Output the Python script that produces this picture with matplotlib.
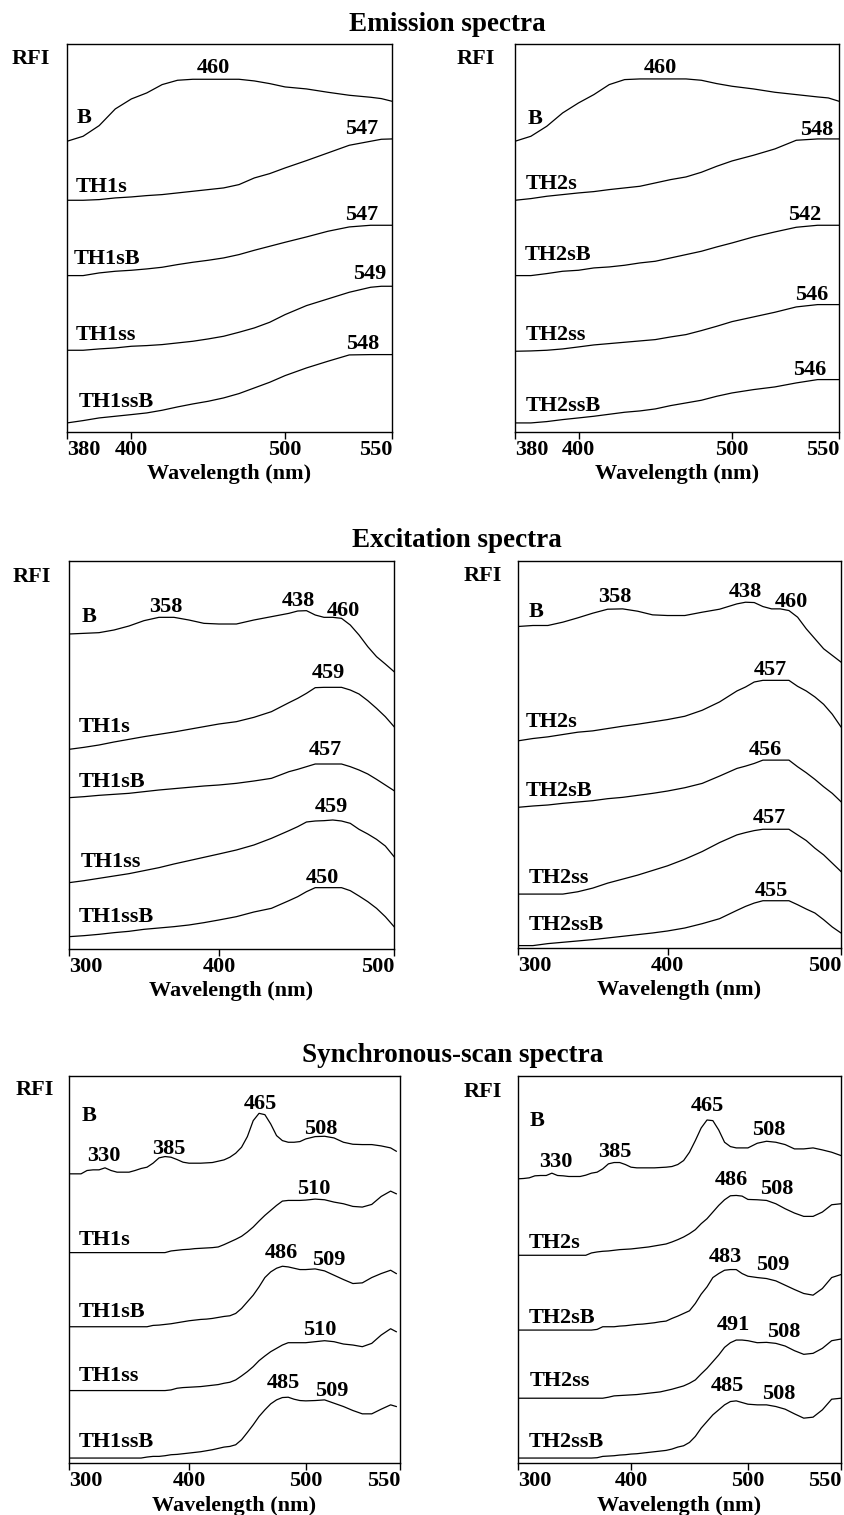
import numpy as np
import matplotlib
matplotlib.use("Agg")
import matplotlib.pyplot as plt

plt.rcParams['font.family'] = ['Liberation Serif', 'DejaVu Serif']
plt.rcParams['font.weight'] = 'bold'
plt.rcParams['font.size'] = 16

# ---------------- data (RFI in arbitrary units, curves stacked) ----------------
em_wl = [380, 385, 390, 395, 400, 410, 420, 430, 440, 450, 460, 470, 480, 490, 500,
         510, 520, 530, 540, 545, 550]
em_ticks = [380, 400, 500, 550]

em1_B = [87.2, 88.7, 91.9, 96.9, 99.9, 101.7, 104.2, 105.5, 105.8, 105.8, 105.8, 105.8, 105.3,
         104.5, 103.5, 102.9, 101.9, 101.0, 100.4, 100.0, 99.2]
em1_TH1s = [69.5, 69.5, 69.7, 70.2, 70.5, 70.9, 71.2, 71.7, 72.2, 72.7, 73.2, 74.2, 76.2, 77.5,
            79.2, 81.4, 83.7, 86.0, 87.2, 87.8, 87.9]
em1_TH1sB = [46.9, 46.9, 47.7, 48.2, 48.5, 48.9, 49.4, 50.2, 50.9, 51.5, 52.2, 53.2, 54.5, 55.7,
             56.9, 58.5, 60.2, 61.5, 62.0, 62.0, 62.0]
em1_TH1ss = [24.5, 24.5, 24.9, 25.2, 25.7, 25.9, 26.2, 26.7, 27.2, 27.9, 28.7, 29.9, 31.2, 32.9,
             35.2, 37.9, 39.9, 41.9, 43.4, 43.7, 43.7]
em1_TH1ssB = [2.7, 3.4, 4.2, 4.7, 5.2, 5.7, 6.5, 7.5, 8.4, 9.2, 10.2, 11.5, 13.2, 14.9, 16.9,
              19.2, 21.2, 23.1, 23.2, 23.2, 23.2]

em2_B = [87.2, 88.7, 91.7, 95.7, 98.7, 101.2, 104.2, 105.7, 105.9, 105.9, 105.9, 105.9, 105.5,
         104.5, 103.7, 102.9, 101.9, 101.2, 100.5, 100.2, 99.2]
em2_TH2s = [69.5, 70.0, 70.7, 71.2, 71.7, 72.1, 72.7, 73.2, 73.7, 74.7, 75.7, 76.5, 77.9, 79.7,
            81.3, 83.0, 84.9, 87.5, 87.9, 87.9, 87.9]
em2_TH2sB = [46.9, 46.9, 47.5, 48.2, 48.5, 49.2, 49.5, 50.0, 50.7, 51.2, 52.2, 53.2, 54.2, 55.5,
             56.7, 58.5, 60.0, 61.4, 62.0, 62.0, 62.0]
em2_TH2ss = [24.2, 24.3, 24.5, 24.9, 25.5, 26.1, 26.5, 26.9, 27.3, 27.7, 28.5, 29.2, 30.4, 31.7,
             33.1, 34.5, 35.9, 37.5, 38.2, 38.2, 38.2]
em2_TH2ssB = [2.7, 2.7, 3.1, 3.7, 4.2, 4.7, 5.3, 5.9, 6.3, 6.9, 7.9, 8.7, 9.5, 10.7, 11.7, 12.7,
              13.5, 14.7, 15.7, 15.7, 15.7]

ex_wl = [300, 310, 320, 330, 340, 350, 360, 370, 380, 390, 400, 410, 420, 430, 440, 445, 450,
         455, 460, 465, 470, 475, 480, 485, 490, 495, 500]
ex_ticks = [300, 400, 500]

ex1_B = [94.5, 94.7, 94.9, 95.7, 96.9, 98.5, 99.5, 99.5, 98.7, 97.7, 97.5, 97.5, 98.7, 99.7, 100.7,
         101.4, 101.5, 100.2, 99.5, 99.5, 99.2, 97.2, 94.2, 90.7, 87.7, 85.5, 83.2]
ex1_TH1s = [59.9, 60.5, 61.2, 62.1, 62.9, 63.7, 64.4, 65.1, 65.9, 66.7, 67.5, 68.2, 69.5, 71.2,
            73.9, 75.2, 76.7, 78.4, 78.5, 78.5, 78.5, 77.7, 76.5, 74.5, 72.2, 69.7, 66.7]
ex1_TH1sB = [45.4, 45.7, 46.1, 46.4, 46.7, 47.2, 47.7, 48.1, 48.5, 48.9, 49.2, 49.7, 50.4, 51.2,
             53.2, 53.9, 54.7, 55.5, 55.5, 55.5, 55.5, 54.7, 53.7, 52.5, 50.9, 49.2, 47.5]
ex1_TH1ss = [19.9, 20.5, 21.2, 21.9, 22.6, 23.5, 24.4, 25.5, 26.5, 27.5, 28.5, 29.7, 31.2, 33.2,
             35.5, 36.7, 38.1, 38.4, 38.5, 38.7, 38.4, 37.7, 35.9, 34.5, 32.9, 30.9, 27.7]
ex1_TH1ssB = [3.7, 4.0, 4.4, 4.9, 5.3, 5.9, 6.3, 6.7, 7.2, 7.9, 8.7, 9.7, 11.1, 12.2, 14.5, 15.7,
              17.2, 18.4, 18.4, 18.4, 18.4, 17.5, 15.9, 14.2, 12.2, 9.7, 6.7]

ex2_B = [96.7, 97.0, 97.0, 98.0, 99.3, 100.7, 101.9, 102.0, 101.3, 100.2, 100.0, 100.0, 101.0,
         101.9, 103.5, 104.0, 103.9, 102.7, 102.0, 102.0, 101.5, 99.5, 96.0, 93.0, 90.0, 88.0, 86.0]
ex2_TH2s = [62.3, 63.0, 63.5, 64.2, 64.9, 65.3, 66.0, 66.7, 67.3, 68.0, 68.7, 69.7, 71.5, 74.0,
            77.3, 78.5, 80.0, 80.5, 80.5, 80.5, 80.5, 78.7, 77.3, 75.5, 73.3, 70.3, 66.5]
ex2_TH2sB = [42.3, 42.7, 43.0, 43.5, 43.9, 44.3, 44.9, 45.3, 45.9, 46.5, 47.2, 48.2, 49.5, 51.7,
             54.0, 54.7, 55.5, 56.5, 56.5, 56.5, 56.5, 54.5, 52.7, 50.7, 48.5, 46.5, 44.0]
ex2_TH2ss = [16.2, 16.2, 16.2, 16.2, 16.9, 18.0, 19.5, 20.7, 21.9, 23.3, 24.7, 26.7, 29.0, 31.7,
             34.0, 34.7, 35.3, 35.7, 35.7, 35.7, 35.7, 34.0, 32.3, 30.0, 28.0, 25.5, 23.0]
ex2_TH2ssB = [0.7, 0.7, 1.3, 1.7, 2.1, 2.5, 3.0, 3.5, 4.0, 4.5, 5.1, 6.0, 7.3, 8.8, 11.3, 12.5,
              13.5, 14.2, 14.2, 14.2, 14.2, 13.0, 11.7, 10.5, 8.5, 6.3, 4.5]

syn1_wl = list(range(300, 550, 5)) + [548]
syn2_wl = list(range(300, 555, 5))
syn_ticks = [300, 400, 500, 550]

syn1_B = [87.0, 87.0, 87.0, 88.0, 88.2, 88.2, 88.8, 88.0, 87.5, 87.5, 87.5, 88.0, 88.6, 89.0,
          90.2, 91.8, 92.2, 92.0, 91.3, 90.5, 90.2, 90.2, 90.2, 90.3, 90.4, 90.8, 91.2, 92.0,
          93.2, 95.0, 98.2, 103.0, 105.2, 104.8, 102.0, 98.5, 97.0, 96.5, 96.5, 96.7, 97.5,
          98.2, 98.3, 97.8, 96.5, 95.9, 95.8, 95.8, 95.4, 94.8, 93.8]
syn1_TH1s = [63.3] * 17 + [63.8, 64.0, 64.2, 64.3, 64.5, 64.6, 64.7, 64.8, 65.0, 65.7, 66.5, 67.3,
                           68.2, 69.5, 71.0, 72.8, 74.5, 76.0, 77.5, 78.8, 79.0, 79.0, 79.0,
                           79.1, 79.4, 79.2, 78.5, 78.0, 77.2, 77.0, 77.8, 80.2, 81.8, 81.0]
syn1_TH1sB = [41.0] * 14 + [41.4, 41.5, 41.7, 41.9, 42.2, 42.5, 42.8, 43.0, 43.2, 43.3, 43.5,
                            43.8, 44.1, 44.3, 45.0, 46.5, 48.5, 50.5, 53.0, 55.8, 57.5, 58.6,
                            59.2, 59.0, 58.6, 58.2, 58.2, 58.4, 57.8, 56.5, 55.2, 54.0, 54.2,
                            55.8, 57.0, 58.0, 57.0]
syn1_TH1ss = [21.8] * 17 + [22.0, 22.5, 22.7, 22.8, 22.9, 23.0, 23.2, 23.4, 23.6, 24.0, 24.3,
                            25.0, 26.2, 27.5, 29.0, 30.8, 32.2, 33.5, 34.5, 35.5, 36.2, 36.2,
                            36.2, 36.2, 36.5, 36.8, 36.5, 35.8, 35.5, 35.0, 36.0, 38.5, 40.4, 39.5]
syn1_TH1ssB = [1.5] * 13 + [1.8, 2.0, 2.0, 2.2, 2.5, 2.6, 2.8, 3.0, 3.2, 3.4, 3.7, 4.0, 4.4, 4.8,
                            5.0, 5.5, 7.0, 9.2, 11.5, 14.0, 16.0, 17.8, 19.0, 19.7, 19.8, 19.2,
                            18.8, 18.7, 18.8, 19.0, 18.0, 17.0, 15.8, 14.8, 14.8, 16.2, 17.5, 17.0]

syn2_B = [85.5, 85.6, 85.8, 86.4, 86.5, 86.5, 87.2, 86.5, 86.4, 86.2, 86.2, 86.2, 86.6, 87.2,
          87.5, 88.5, 90.0, 90.4, 90.4, 89.8, 89.0, 88.8, 88.8, 88.8, 88.8, 88.9, 89.0, 89.2,
          89.8, 91.0, 93.5, 97.0, 100.8, 103.2, 103.0, 100.2, 96.5, 95.2, 94.8, 94.8, 94.8,
          96.2, 96.8, 96.5, 95.8, 94.5, 94.5, 94.8, 94.2, 93.5, 92.5]
syn2_TH2s = [62.5] * 13 + [63.2, 63.5, 63.7, 63.8, 64.0, 64.2, 64.3, 64.4, 64.6, 64.8, 65.0, 65.3,
                           65.6, 65.9, 66.5, 67.2, 68.0, 69.0, 70.2, 72.0, 73.5, 75.5, 77.5,
                           79.2, 80.4, 80.5, 80.3, 79.3, 79.2, 79.0, 78.0, 76.5, 75.2, 74.2,
                           74.2, 75.5, 77.7, 78.0]
syn2_TH2sB = [40.0] * 14 + [40.2, 41.0, 41.0, 41.0, 41.2, 41.3, 41.5, 41.7, 41.8, 42.0, 42.2,
                            42.5, 42.7, 43.5, 44.2, 45.0, 45.8, 48.0, 50.8, 53.0, 55.8, 57.0,
                            58.0, 58.2, 58.2, 57.0, 56.2, 55.8, 55.5, 54.8, 53.5, 52.2, 51.0,
                            50.5, 52.5, 55.8, 56.7]
syn2_TH2ss = [19.5] * 16 + [19.8, 20.2, 20.3, 20.4, 20.5, 20.6, 20.8, 21.0, 21.2, 21.4, 21.8,
                            22.2, 22.7, 23.2, 24.0, 25.0, 26.8, 28.5, 30.5, 32.5, 34.8, 36.2,
                            37.0, 37.0, 36.8, 36.2, 36.3, 36.0, 35.2, 33.8, 32.7, 33.0, 34.5,
                            36.8, 37.3]
syn2_TH2ssB = [1.5] * 14 + [1.6, 2.0, 2.1, 2.2, 2.4, 2.5, 2.7, 2.8, 3.0, 3.2, 3.4, 3.6, 3.8, 4.2,
                            4.8, 5.2, 6.2, 8.0, 10.5, 12.5, 14.5, 16.0, 17.5, 18.5, 18.7, 18.2,
                            17.7, 17.5, 17.5, 17.0, 16.2, 14.8, 13.5, 13.8, 16.0, 19.2, 19.5]

names1 = ['B', 'TH1s', 'TH1sB', 'TH1ss', 'TH1ssB']
names2 = ['B', 'TH2s', 'TH2sB', 'TH2ss', 'TH2ssB']
em1_peaks = ['460', '547', '547', '549', '548']
em2_peaks = ['460', '548', '542', '546', '546']
ex1_peaks = ['358', '438', '460', '459', '457', '459', '450']
ex2_peaks = ['358', '438', '460', '457', '456', '457', '455']
syn1_peaks = ['465', '508', '385', '330', '510', '486', '509', '510', '485', '509']
syn2_peaks = ['465', '508', '385', '330', '486', '508', '483', '509', '491', '508', '485', '508']

# ---------------- layout ----------------
fig = plt.figure(figsize=(8.44, 15.15), dpi=100)

panels = [
    dict(rect=[0.0794, 0.7149, 0.3851, 0.2561], wl=em_wl,
         curves=[em1_B, em1_TH1s, em1_TH1sB, em1_TH1ss, em1_TH1ssB],
         ticks=em_ticks, tpos=[0, 0.198, 0.671, 1], names=names1,
         name_xy=[(0.031, 0.795), (0.027, 0.618), (0.021, 0.433), (0.027, 0.238), (0.036, 0.064)],
         peaks=em1_peaks,
         peak_xy=[(0.450, 0.925), (0.907, 0.769), (0.907, 0.547), (0.931, 0.393), (0.911, 0.214)],
         rfi=(-0.169, 0.949)),
    dict(rect=[0.6102, 0.7149, 0.3839, 0.2561], wl=em_wl,
         curves=[em2_B, em2_TH2s, em2_TH2sB, em2_TH2ss, em2_TH2ssB],
         ticks=em_ticks, tpos=[0, 0.196, 0.670, 1], names=names2,
         name_xy=[(0.039, 0.794), (0.034, 0.627), (0.029, 0.442), (0.034, 0.238), (0.034, 0.053)],
         peaks=em2_peaks,
         peak_xy=[(0.448, 0.925), (0.931, 0.766), (0.894, 0.547), (0.915, 0.341), (0.910, 0.148)],
         rfi=(-0.179, 0.949)),
    dict(rect=[0.0818, 0.3736, 0.3851, 0.2561], wl=ex_wl,
         curves=[ex1_B, ex1_TH1s, ex1_TH1sB, ex1_TH1ss, ex1_TH1ssB],
         ticks=ex_ticks, tpos=[0, 0.461, 1], names=names1,
         name_xy=[(0.039, 0.844), (0.031, 0.560), (0.031, 0.418), (0.037, 0.212), (0.031, 0.070)],
         peaks=ex1_peaks,
         peak_xy=[(0.297, 0.869), (0.705, 0.884), (0.843, 0.857), (0.799, 0.698), (0.789, 0.500),
                  (0.807, 0.354), (0.779, 0.169)],
         rfi=(-0.175, 0.947)),
    dict(rect=[0.6137, 0.3743, 0.3827, 0.2554], wl=ex_wl,
         curves=[ex2_B, ex2_TH2s, ex2_TH2sB, ex2_TH2ss, ex2_TH2ssB],
         ticks=ex_ticks, tpos=[0, 0.463, 1], names=names2,
         name_xy=[(0.034, 0.855), (0.024, 0.571), (0.024, 0.393), (0.032, 0.168), (0.032, 0.047)],
         peaks=ex2_peaks,
         peak_xy=[(0.300, 0.895), (0.703, 0.906), (0.848, 0.882), (0.781, 0.706), (0.765, 0.499),
                  (0.779, 0.323), (0.786, 0.133)],
         rfi=(-0.167, 0.948)),
    dict(rect=[0.0818, 0.0343, 0.3922, 0.2554], wl=syn1_wl,
         curves=[syn1_B, syn1_TH1s, syn1_TH1sB, syn1_TH1ss, syn1_TH1ssB],
         ticks=syn_ticks, tpos=[0, 0.3625, 0.715, 1], names=names1,
         name_xy=[(0.038, 0.884), (0.030, 0.563), (0.030, 0.377), (0.030, 0.211), (0.030, 0.041)],
         peaks=syn1_peaks,
         peak_xy=[(0.577, 0.916), (0.760, 0.850), (0.300, 0.798), (0.106, 0.781), (0.738, 0.696),
                  (0.642, 0.529), (0.785, 0.512), (0.758, 0.331), (0.648, 0.193), (0.794, 0.174)],
         rfi=(-0.160, 0.950)),
    dict(rect=[0.6137, 0.0343, 0.3827, 0.2554], wl=syn2_wl,
         curves=[syn2_B, syn2_TH2s, syn2_TH2sB, syn2_TH2ss, syn2_TH2ssB],
         ticks=syn_ticks, tpos=[0, 0.350, 0.712, 1], names=names2,
         name_xy=[(0.036, 0.870), (0.032, 0.557), (0.032, 0.363), (0.036, 0.198), (0.032, 0.041)],
         peaks=syn2_peaks,
         peak_xy=[(0.585, 0.910), (0.775, 0.847), (0.300, 0.791), (0.116, 0.764), (0.662, 0.718),
                  (0.801, 0.695), (0.642, 0.520), (0.788, 0.499), (0.667, 0.344), (0.822, 0.327),
                  (0.647, 0.185), (0.808, 0.165)],
         rfi=(-0.167, 0.946)),
]


def piecewise(ticks, tpos):
    # the printed wavelength axis is not linear: map ticks onto their drawn positions
    fwd = lambda x: np.interp(x, ticks, tpos)
    inv = lambda y: np.interp(y, tpos, ticks)
    return fwd, inv


for p in panels:
    ax = fig.add_axes(p['rect'])
    ax.set_xscale('function', functions=piecewise(p['ticks'], p['tpos']))
    for y in p['curves']:
        ax.plot(p['wl'], y, color='black', lw=0.9)
    ax.set_xlim(p['ticks'][0], p['ticks'][-1])
    ax.set_ylim(0, 116.4)
    ax.set_yticks([])
    ax.set_xticks(p['ticks'], labels=[str(t) for t in p['ticks']])
    ax.tick_params(axis='x', direction='out', length=5, width=1, pad=1, labelsize=16)
    lbls = ax.get_xticklabels()
    lbls[0].set_horizontalalignment('left')
    lbls[-1].set_horizontalalignment('right')
    for s in ax.spines.values():
        s.set_linewidth(1.0)
    ax.set_xlabel('Wavelength (nm)', fontsize=16, fontweight='bold', labelpad=3)
    for t, (x, y) in zip(p['names'], p['name_xy']):
        ax.text(x, y, t, transform=ax.transAxes, ha='left', va='baseline', fontsize=16)
    for t, (x, y) in zip(p['peaks'], p['peak_xy']):
        ax.text(x, y, t, transform=ax.transAxes, ha='center', va='baseline', fontsize=16)
    ax.text(p['rfi'][0], p['rfi'][1], 'RFI', transform=ax.transAxes, ha='left',
            va='baseline', fontsize=16)

fig.text(0.5296, 0.9795, 'Emission spectra', ha='center', va='baseline', fontsize=19.5)
fig.text(0.5415, 0.6391, 'Excitation spectra', ha='center', va='baseline', fontsize=19.5)
fig.text(0.5367, 0.2992, 'Synchronous-scan spectra', ha='center', va='baseline', fontsize=19.5)

fig.savefig('out.png', dpi=100)
